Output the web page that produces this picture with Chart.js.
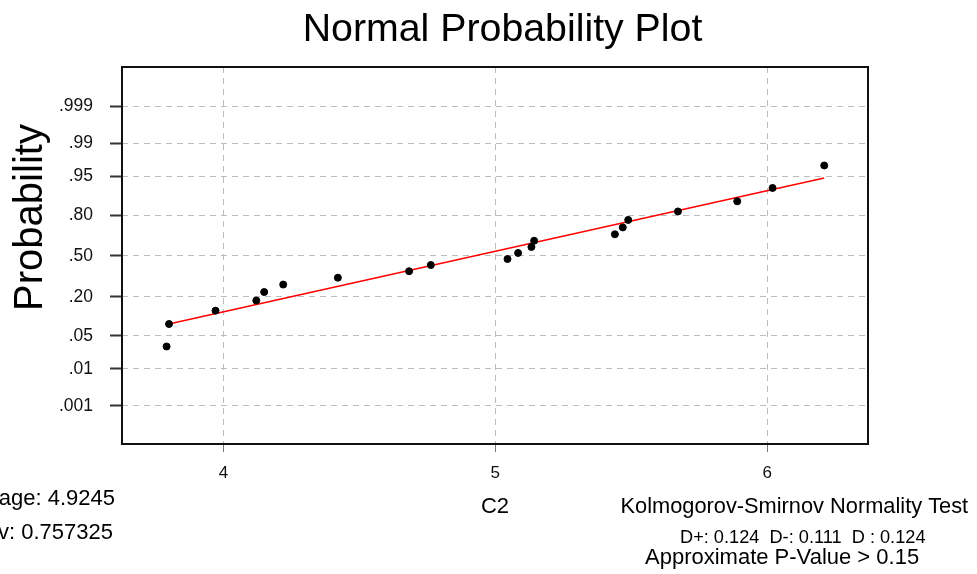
<!DOCTYPE html>
<html><head><meta charset="utf-8">
<script src="https://cdn.jsdelivr.net/npm/chart.js@4.4.0/dist/chart.umd.min.js"></script>
<style>html,body{margin:0;padding:0;background:#fff;overflow:hidden}canvas{display:block}</style>
</head><body>
<canvas id="c" width="977" height="574"></canvas>
<script>
// ---- data ----
const sampleValues = [3.791, 3.800, 3.971, 4.121, 4.150, 4.220, 4.421, 4.683, 4.763, 5.045,
                      5.084, 5.133, 5.143, 5.440, 5.469, 5.489, 5.672, 5.890, 6.020, 6.210];
const cumulativeProbs = [0.0309, 0.0802, 0.1296, 0.1790, 0.2284, 0.2778, 0.3272, 0.3765, 0.4259, 0.4753,
                         0.5247, 0.5741, 0.6235, 0.6728, 0.7222, 0.7716, 0.8210, 0.8704, 0.9198, 0.9691];
const fitLineX = [3.791, 6.210];
const fitLineProbs = [0.079, 0.946];
const yTickProbs = [0.001, 0.01, 0.05, 0.20, 0.50, 0.80, 0.95, 0.99, 0.999];
const yTickLabels = ['.001', '.01', '.05', '.20', '.50', '.80', '.95', '.99', '.999'];
const xTickValues = [4, 5, 6];
const xTickLabels = ['4', '5', '6'];
const chartTitle = 'Normal Probability Plot';
const yAxisTitle = 'Probability';
const xAxisTitle = 'C2';
const statsLeft = ['Average: 4.9245', 'StDev: 0.757325'];
const ksTitle = 'Kolmogorov-Smirnov Normality Test';
const ksStats = 'D+: 0.124  D-: 0.111  D : 0.124';
const ksPValue = 'Approximate P-Value > 0.15';

// inverse standard normal CDF (probability-scale transform)
function probit(p){
  const a=[-3.969683028665376e+01,2.209460984245205e+02,-2.759285104469687e+02,1.383577518672690e+02,-3.066479806614716e+01,2.506628277459239e+00];
  const b=[-5.447609879822406e+01,1.615858368580409e+02,-1.556989798598866e+02,6.680131188771972e+01,-1.328068155288572e+01];
  const c=[-7.784894002430293e-03,-3.223964580411365e-01,-2.400758277161838e+00,-2.549732539343734e+00,4.374664141464968e+00,2.938163982698783e+00];
  const d=[7.784695709041462e-03,3.224671290700398e-01,2.445134137142996e+00,3.754408661907416e+00];
  const pl=0.02425, ph=1-pl; let q, r;
  if (p < pl){ q=Math.sqrt(-2*Math.log(p)); return (((((c[0]*q+c[1])*q+c[2])*q+c[3])*q+c[4])*q+c[5])/((((d[0]*q+d[1])*q+d[2])*q+d[3])*q+1); }
  if (p <= ph){ q=p-0.5; r=q*q; return (((((a[0]*r+a[1])*r+a[2])*r+a[3])*r+a[4])*r+a[5])*q/(((((b[0]*r+b[1])*r+b[2])*r+b[3])*r+b[4])*r+1); }
  q=Math.sqrt(-2*Math.log(1-p)); return -(((((c[0]*q+c[1])*q+c[2])*q+c[3])*q+c[4])*q+c[5])/((((d[0]*q+d[1])*q+d[2])*q+d[3])*q+1);
}

const FONT = '"Liberation Sans", Arial, Helvetica, sans-serif';
const pointsData = sampleValues.map((x, i) => ({x: x, y: probit(cumulativeProbs[i])}));
const lineData = fitLineX.map((x, i) => ({x: x, y: probit(fitLineProbs[i])}));

const decor = {
  id: 'decor',
  afterDraw(chart){
    const ctx = chart.ctx, a = chart.chartArea;
    ctx.save();
    ctx.strokeStyle = '#111';
    ctx.lineWidth = 2;
    ctx.strokeRect(a.left, a.top, a.right - a.left, a.bottom - a.top);
    ctx.fillStyle = '#000';
    ctx.textBaseline = 'alphabetic';
    // title
    ctx.font = '39.3px ' + FONT;
    ctx.textAlign = 'center';
    ctx.fillText(chartTitle, 502.5, 41);
    // y axis title
    ctx.save();
    ctx.font = '40px ' + FONT;
    ctx.translate(42, 217.5);
    ctx.rotate(-Math.PI / 2);
    ctx.fillText(yAxisTitle, 0, 0);
    ctx.restore();
    // x axis title
    ctx.font = '22px ' + FONT;
    ctx.fillText(xAxisTitle, 495, 513);
    // left stats
    ctx.font = '22px ' + FONT;
    ctx.textAlign = 'right';
    ctx.fillText(statsLeft[0], 115, 505);
    ctx.fillText(statsLeft[1], 113, 539);
    // KS test
    ctx.textAlign = 'left';
    ctx.font = '21.8px ' + FONT;
    ctx.fillText(ksTitle, 620.5, 513);
    ctx.font = '18.2px ' + FONT;
    ctx.fillText(ksStats, 680, 543);
    ctx.font = '22px ' + FONT;
    ctx.fillText(ksPValue, 645, 563.5);
    ctx.restore();
  }
};

new Chart(document.getElementById('c'), {
  type: 'scatter',
  data: {
    datasets: [
      { data: pointsData, order: 0, backgroundColor: '#000', borderColor: '#000', pointRadius: 3.5, pointHoverRadius: 3.5, showLine: false },
      { data: lineData, order: 1, showLine: true, borderColor: '#ff0000', borderWidth: 1.5, pointRadius: 0, pointHoverRadius: 0, fill: false }
    ]
  },
  options: {
    responsive: false,
    animation: false,
    events: [],
    layout: { padding: { left: 0, top: 67, right: 109, bottom: 0 } },
    plugins: { legend: { display: false }, tooltip: { enabled: false }, title: { display: false } },
    scales: {
      x: {
        type: 'linear', min: 3.627, max: 6.371,
        afterBuildTicks: s => { s.ticks = xTickValues.map(v => ({value: v})); },
        afterFit: s => { s.height = 130; },
        ticks: { callback: (v, i) => xTickLabels[i], font: { family: FONT, size: 17 }, color: '#111', padding: 11, maxRotation: 0 },
        grid: { color: '#bdbdbd', lineWidth: 1, tickLength: 8, tickColor: '#777', tickWidth: 1 },
        border: { display: false, dash: [6, 5] }
      },
      y: {
        type: 'linear', min: -3.88, max: 3.9,
        afterBuildTicks: s => { s.ticks = yTickProbs.map(p => ({value: probit(p)})); },
        afterFit: s => { s.width = 122; },
        ticks: { callback: (v, i) => yTickLabels[i], font: { family: FONT, size: 17.5 }, color: '#111', padding: 17 },
        grid: { color: '#bdbdbd', lineWidth: 1, tickLength: 12, tickColor: '#333', tickWidth: 2 },
        border: { display: false, dash: [6, 5] }
      }
    }
  },
  plugins: [decor]
});
</script>
</body></html>
